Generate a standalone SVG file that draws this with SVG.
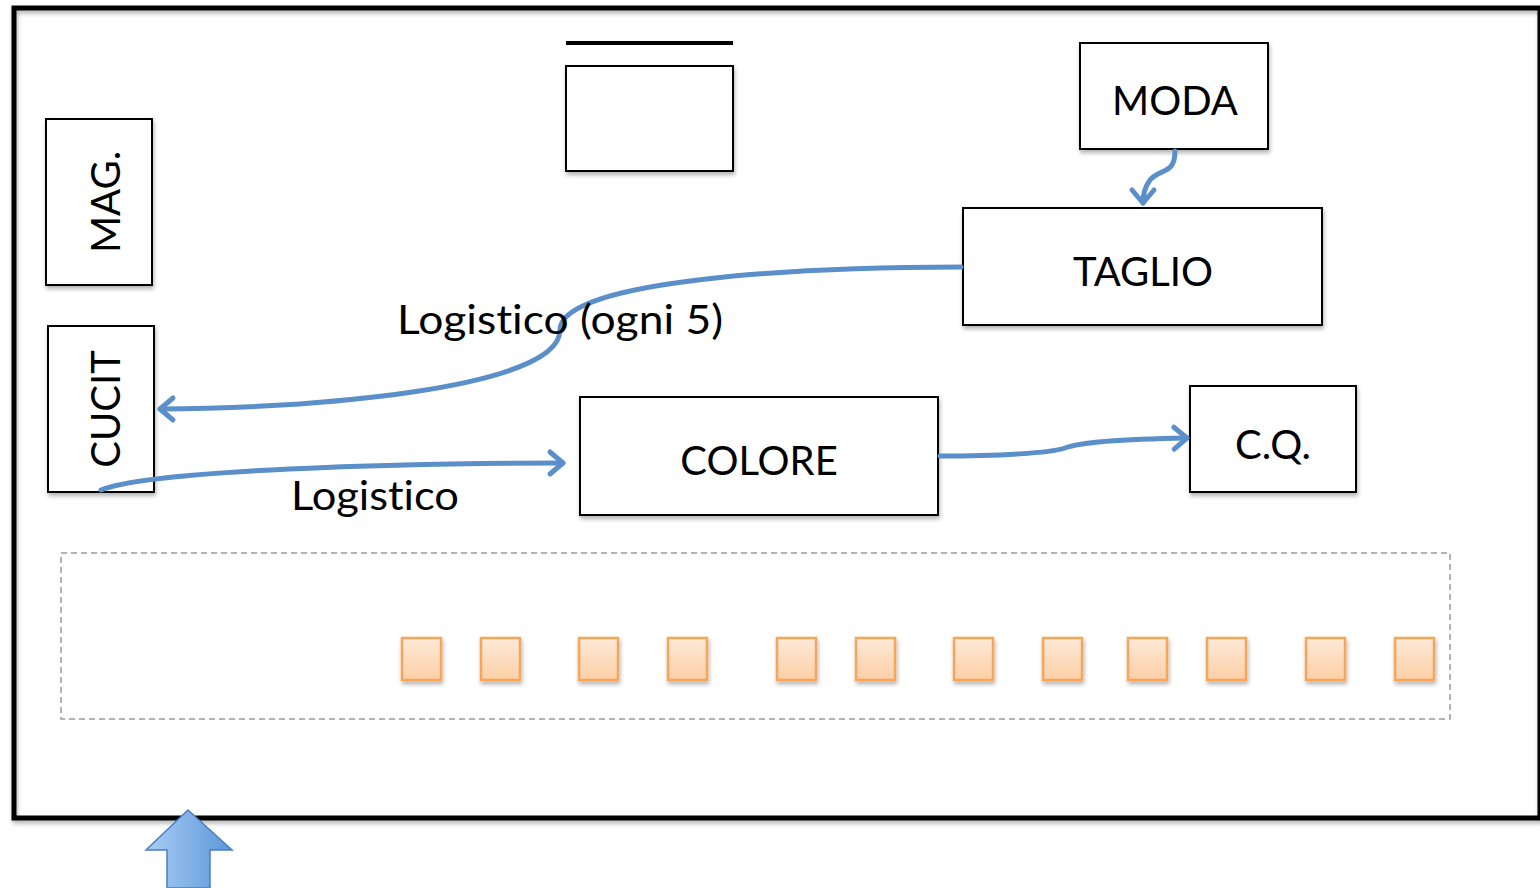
<svg xmlns="http://www.w3.org/2000/svg" width="1540" height="888" viewBox="0 0 1540 888">
<style>
.box{fill:#fff;stroke:#000;stroke-width:2;filter:url(#sh)}
.lbl{font-family:"Lato","Liberation Sans",sans-serif;font-size:40px;fill:#000;font-variant-ligatures:none;font-feature-settings:"liga" 0}
.conn{fill:none;stroke:#5b8fc9;stroke-width:5;stroke-linecap:round}
.sq{fill:url(#og);stroke:#f7a55a;stroke-width:2.5;filter:url(#sh)}
</style>
<defs>
<filter id="sh" x="-20%" y="-20%" width="140%" height="150%">
<feDropShadow dx="1" dy="3" stdDeviation="2" flood-color="#000" flood-opacity="0.3"/>
</filter>
<linearGradient id="og" x1="0" y1="0" x2="0" y2="1">
<stop offset="0" stop-color="#fee9d9"/>
<stop offset="1" stop-color="#fccfa5"/>
</linearGradient>
<linearGradient id="bg" x1="0" y1="0" x2="1" y2="0">
<stop offset="0" stop-color="#a9cdf5"/>
<stop offset="1" stop-color="#5d96d8"/>
</linearGradient>
<marker id="ah" markerUnits="userSpaceOnUse" markerWidth="32" markerHeight="32" refX="24" refY="13" orient="auto" viewBox="0 0 32 26">
<path d="M11 2 L24 13 L11 24" fill="none" stroke="#5b8fc9" stroke-width="5" stroke-linecap="round" stroke-linejoin="round"/>
</marker>
</defs>
<rect width="1540" height="888" fill="#fff"/>
<g id="frame">
<rect x="14" y="8" width="1526" height="810" fill="none" stroke="#000" stroke-width="5" filter="url(#sh)"/>
</g>
<g id="mag">
<rect class="box" x="46" y="119" width="106" height="166"/>
<text class="lbl" transform="translate(120 202) rotate(-90)" text-anchor="middle">MAG.</text>
</g>
<g id="cucit">
<rect class="box" x="48" y="326" width="106" height="166"/>
<text class="lbl" transform="translate(120 409) rotate(-90)" text-anchor="middle">CUCIT</text>
</g>
<g id="blank">
<line x1="566" y1="43" x2="733" y2="43" stroke="#000" stroke-width="4"/>
<rect class="box" x="566" y="66" width="167" height="105"/>
</g>
<g id="moda">
<rect class="box" x="1080" y="43" width="188" height="106"/>
<text class="lbl" x="1175" y="115" text-anchor="middle">MODA</text>
</g>
<g id="taglio">
<rect class="box" x="963" y="208" width="359" height="117"/>
<text class="lbl" x="1143" y="286" text-anchor="middle">TAGLIO</text>
</g>
<g id="colore">
<rect class="box" x="580" y="397" width="358" height="118"/>
<text class="lbl" x="759" y="475" text-anchor="middle">COLORE</text>
</g>
<g id="cq">
<rect class="box" x="1190" y="386" width="166" height="106"/>
<text class="lbl" x="1273" y="459" text-anchor="middle">C.Q.</text>
</g>
<g id="zone">
<rect x="61" y="553" width="1389" height="166" fill="none" stroke="#999" stroke-width="1.5" stroke-dasharray="6 4"/>
<rect class="sq" x="402" y="638" width="39" height="42"/>
<rect class="sq" x="481" y="638" width="39" height="42"/>
<rect class="sq" x="579" y="638" width="39" height="42"/>
<rect class="sq" x="668" y="638" width="39" height="42"/>
<rect class="sq" x="777" y="638" width="39" height="42"/>
<rect class="sq" x="856" y="638" width="39" height="42"/>
<rect class="sq" x="954" y="638" width="39" height="42"/>
<rect class="sq" x="1043" y="638" width="39" height="42"/>
<rect class="sq" x="1128" y="638" width="39" height="42"/>
<rect class="sq" x="1207" y="638" width="39" height="42"/>
<rect class="sq" x="1306" y="638" width="39" height="42"/>
<rect class="sq" x="1395" y="638" width="39" height="42"/>
</g>
<g id="entry">
<path d="M188 810 L232 850 L210 850 L210 888 L167 888 L167 850 L146 850 Z" fill="url(#bg)" stroke="#4a7fc0" stroke-width="1.5"/>
</g>
<g id="connectors">
<path class="conn" d="M1175 151 C1175 175 1160 168 1150 180 C1144 188 1143 195 1143 203" marker-end="url(#ah)"/>
<path class="conn" d="M961 267 C800 267 560 280 560 330 C560 390 300 409 160 409" marker-end="url(#ah)"/>
<path class="conn" d="M101 490 C150 470 400 463 563 463" marker-end="url(#ah)"/>
<path class="conn" d="M940 456 C1000 456 1050 453 1065 448 C1080 442 1130 439 1187 438" marker-end="url(#ah)"/>
</g>
<g id="labels">
<text class="lbl" x="397" y="334" textLength="326" lengthAdjust="spacingAndGlyphs">Logistico (ogni 5)</text>
<text class="lbl" x="291" y="510" textLength="168" lengthAdjust="spacingAndGlyphs">Logistico</text>
</g>
</svg>
